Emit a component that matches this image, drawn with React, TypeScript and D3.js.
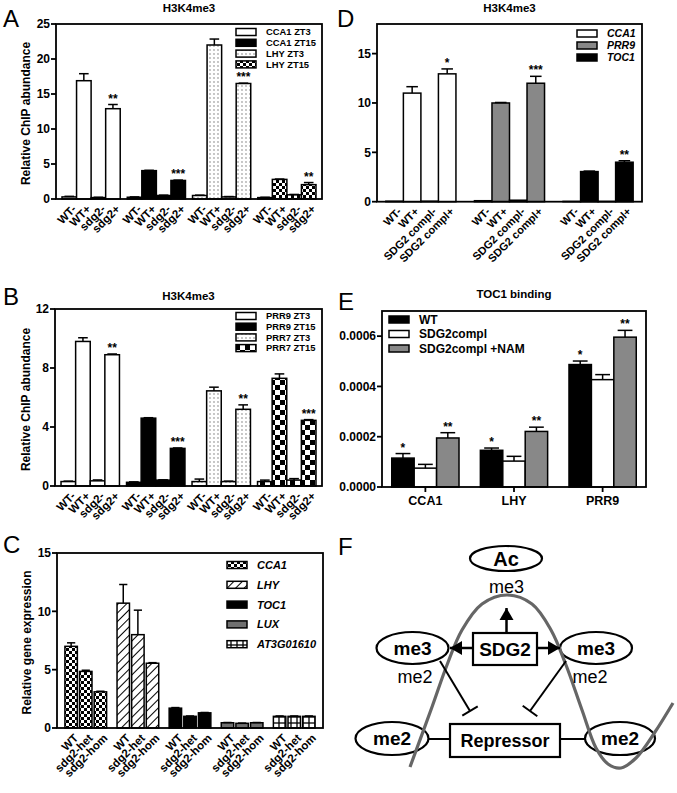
import React from "react";
import * as d3 from "d3";

const FONT = "'Liberation Sans', Arial, Helvetica, sans-serif";

// ---------------- Panel A ----------------
const conditionsA = ["WT-", "WT+", "sdg2-", "sdg2+"];
const seriesA = ["CCA1 ZT3", "CCA1 ZT15", "LHY ZT3", "LHY ZT15"];
const valuesA = [
  [0.3, 16.9, 0.2, 12.9],
  [0.25, 4.05, 0.5, 2.65],
  [0.5, 22.0, 0.3, 16.5],
  [0.2, 2.8, 0.6, 2.05],
];
const errorsA = [
  [0.08, 1.0, 0.05, 0.6],
  [0.05, 0.05, 0.05, 0.05],
  [0.05, 0.85, 0.05, 0.05],
  [0.05, 0.05, 0.05, 0.3],
];
const starsA = [
  ["", "", "", "**"],
  ["", "", "", "***"],
  ["", "", "", "***"],
  ["", "", "", "**"],
];
const ticksA = [0, 5, 10, 15, 20, 25];

// ---------------- Panel B ----------------
const conditionsB = ["WT-", "WT+", "sdg2-", "sdg2+"];
const seriesB = ["PRR9 ZT3", "PRR9 ZT15", "PRR7 ZT3", "PRR7 ZT15"];
const valuesB = [
  [0.3, 9.8, 0.35, 8.9],
  [0.25, 4.6, 0.4, 2.55],
  [0.3, 6.45, 0.3, 5.2],
  [0.3, 7.3, 0.4, 4.45],
];
const errorsB = [
  [0.03, 0.25, 0.06, 0.05],
  [0.03, 0.03, 0.02, 0.03],
  [0.17, 0.25, 0.03, 0.3],
  [0.1, 0.3, 0.1, 0.05],
];
const starsB = [
  ["", "", "", "**"],
  ["", "", "", "***"],
  ["", "", "", "**"],
  ["", "", "", "***"],
];
const ticksB = [0, 4, 8, 12];

// ---------------- Panel C ----------------
const conditionsC = ["WT", "sdg2-het", "sdg2-hom"];
const genesC = ["CCA1", "LHY", "TOC1", "LUX", "AT3G01610"];
const valuesC = [
  [7.0, 4.85, 3.1],
  [10.7, 8.0, 5.55],
  [1.7, 1.0, 1.3],
  [0.45, 0.4, 0.45],
  [1.0, 1.0, 1.0],
];
const errorsC = [
  [0.3, 0.1, 0.05],
  [1.6, 2.1, 0.05],
  [0.05, 0.03, 0.03],
  [0.02, 0.02, 0.02],
  [0.03, 0.03, 0.03],
];
const ticksC = [0, 5, 10, 15];

// ---------------- Panel D ----------------
const conditionsD = ["WT-", "WT+", "SDG2 compl-", "SDG2 compl+"];
const genesD = ["CCA1", "PRR9", "TOC1"];
const valuesD = [
  [0.05, 11.0, 0.05, 12.95],
  [0.1, 10.0, 0.15, 12.0],
  [0.03, 3.05, 0.03, 4.0],
];
const errorsD = [
  [0, 0.65, 0, 0.5],
  [0, 0.05, 0, 0.7],
  [0, 0.05, 0, 0.15],
];
const starsD = [
  ["", "", "", "*"],
  ["", "", "", "***"],
  ["", "", "", "**"],
];
const ticksD = [0, 5, 10, 15];

// ---------------- Panel E ----------------
const genesE = ["CCA1", "LHY", "PRR9"];
const seriesE = ["WT", "SDG2compl", "SDG2compl +NAM"];
const valuesE = [
  [0.000115, 0.000075, 0.000195],
  [0.000146, 0.000103, 0.000221],
  [0.000487, 0.000427, 0.000596],
];
const errorsE = [
  [0.000018, 0.000015, 0.000021],
  [0.000009, 0.000019, 0.000017],
  [0.000014, 0.00002, 0.000027],
];
const starsE = [
  ["*", "", "**"],
  ["*", "", "**"],
  ["*", "", "**"],
];
const ticksE = [0, 0.0002, 0.0004, 0.0006];

// ---------------- Panel F (schematic) ----------------
const diagramEllipses = [
  { label: "Ac", cx: 506, cy: 558.5, rx: 36, ry: 12.5 },
  { label: "me3", cx: 412.5, cy: 648, rx: 36, ry: 16 },
  { label: "me3", cx: 596, cy: 648, rx: 36, ry: 16 },
  { label: "me2", cx: 392, cy: 738.5, rx: 36.5, ry: 16.5 },
  { label: "me2", cx: 620, cy: 738.5, rx: 35, ry: 16.5 },
];
const diagramBoxes = [
  { label: "SDG2", x: 473, y: 633, w: 64, h: 32, size: 19 },
  { label: "Repressor", x: 450, y: 724, w: 110, h: 33, size: 18 },
];
const diagramTexts = [
  { label: "me3", x: 506.5, y: 587 },
  { label: "me2", x: 415, y: 677 },
  { label: "me2", x: 590, y: 677 },
];
const nucleosomeCurve: [number, number][] = [
  [410, 767], [432, 707], [447, 665], [462, 630], [482, 604], [507, 595],
  [532, 604], [551, 630], [566, 665], [582, 710], [596, 748], [608, 764],
  [621, 768], [636, 758], [655, 732], [673, 703],
];
const arrows = [
  { x1: 506.5, y1: 633, x2: 506.5, y2: 608 },
  { x1: 473, y1: 648, x2: 450, y2: 648 },
  { x1: 537, y1: 648, x2: 560, y2: 648 },
];
const inhibitions = [
  { x1: 440, y1: 661, x2: 470, y2: 711 },
  { x1: 566, y1: 661, x2: 530, y2: 711 },
];
const connectors = [
  { x1: 428.5, y1: 739, x2: 450, y2: 739 },
  { x1: 560, y1: 739, x2: 585, y2: 739 },
];

function Defs() {
  return (
    <defs>
      <pattern id="dots" width={4} height={4} patternUnits="userSpaceOnUse">
        <rect width={4} height={4} fill="#fff" />
        <circle cx={2} cy={2} r={0.7} fill="#666" />
      </pattern>
      <pattern id="check3" width={6} height={6} patternUnits="userSpaceOnUse">
        <rect width={6} height={6} fill="#fff" />
        <rect width={3} height={3} fill="#000" />
        <rect x={3} y={3} width={3} height={3} fill="#000" />
      </pattern>
      <pattern id="check5" width={10} height={10} patternUnits="userSpaceOnUse">
        <rect width={10} height={10} fill="#fff" />
        <rect width={5} height={5} fill="#000" />
        <rect x={5} y={5} width={5} height={5} fill="#000" />
      </pattern>
      <pattern id="hatch" width={6} height={6} patternUnits="userSpaceOnUse" patternTransform="rotate(45)">
        <rect width={6} height={6} fill="#fff" />
        <line x1={0} y1={0} x2={0} y2={6} stroke="#000" strokeWidth={2} />
      </pattern>
      <pattern id="grid" width={6} height={6} patternUnits="userSpaceOnUse">
        <rect width={6} height={6} fill="#fff" />
        <line x1={3} y1={0} x2={3} y2={6} stroke="#000" strokeWidth={1.3} />
        <line x1={0} y1={3} x2={6} y2={3} stroke="#000" strokeWidth={1.3} />
      </pattern>
    </defs>
  );
}

type PanelProps = {
  letter: string; letterX: number; letterY: number;
  title?: string; titleY?: number;
  yLabel?: string; yLabelX?: number;
  left: number; right: number; top: number; bottom: number;
  yMax: number; ticks: number[]; tickFormat?: (v: number) => string;
  groups: string[]; conds: string[];
  values: number[][]; errors: number[][]; stars?: string[][];
  fills: string[]; fillBy: "group" | "cond";
  padInner: number; padOuter: number; innerPad: number;
  xLabels: "rotated" | "group";
  labelSize?: number;
  legend: { x: number; y: number; dy: number; size: number; italic?: boolean; labels: string[] };
};

function BarPanel(p: PanelProps) {
  const y = d3.scaleLinear().domain([0, p.yMax]).range([p.bottom, p.top]);
  const x0 = d3.scaleBand<number>().domain(d3.range(p.groups.length)).range([p.left, p.right])
    .paddingInner(p.padInner).paddingOuter(p.padOuter);
  const x1 = d3.scaleBand<number>().domain(d3.range(p.conds.length)).range([0, x0.bandwidth()])
    .paddingInner(p.innerPad);
  const bw = x1.bandwidth();
  const fmt = p.tickFormat || ((v: number) => String(v));
  const fillOf = (g: number, c: number) => (p.fillBy === "group" ? p.fills[g] : p.fills[c]);
  const ls = p.labelSize || 11.5;
  return (
    <g>
      <text x={p.letterX} y={p.letterY} fontSize={24} fontFamily={FONT}>{p.letter}</text>
      {p.title && (
        <text x={(p.left + p.right) / 2} y={p.titleY} textAnchor="middle" fontSize={11.5} fontWeight="bold">{p.title}</text>
      )}
      {p.yLabel && (
        <text transform={`translate(${p.yLabelX},${(p.top + p.bottom) / 2 + 2}) rotate(-90)`} textAnchor="middle"
          dy="0.35em" fontSize={12} fontWeight="bold">{p.yLabel}</text>
      )}
      {p.values.map((row, g) =>
        row.map((v, c) => {
          const x = (x0(g) as number) + (x1(c) as number);
          return (
            <rect key={`b${g}-${c}`} x={x} y={y(v)} width={bw} height={p.bottom - y(v)}
              fill={fillOf(g, c)} stroke="#000" strokeWidth={1.5} />
          );
        })
      )}
      {p.values.map((row, g) =>
        row.map((v, c) => {
          const e = p.errors[g][c];
          if (!e) return null;
          const cx = (x0(g) as number) + (x1(c) as number) + bw / 2;
          const cw = bw * 0.33;
          return (
            <g key={`e${g}-${c}`} stroke="#000" strokeWidth={1.5}>
              <line x1={cx} x2={cx} y1={y(v)} y2={y(v + e)} />
              <line x1={cx - cw} x2={cx + cw} y1={y(v + e)} y2={y(v + e)} />
            </g>
          );
        })
      )}
      {p.stars && p.values.map((row, g) =>
        row.map((v, c) => {
          const s = p.stars![g][c];
          if (!s) return null;
          const cx = (x0(g) as number) + (x1(c) as number) + bw / 2;
          return (
            <text key={`s${g}-${c}`} x={cx} y={y(v + p.errors[g][c]) - 2} textAnchor="middle" fontSize={12}
              fontWeight="bold">{s}</text>
          );
        })
      )}
      <rect x={p.left} y={p.top} width={p.right - p.left} height={p.bottom - p.top} fill="none" stroke="#000" strokeWidth={1.8} />
      {p.ticks.map((t) => (
        <g key={`t${t}`}>
          <line x1={p.left - 5} x2={p.left} y1={y(t)} y2={y(t)} stroke="#000" strokeWidth={1.8} />
          <text x={p.left - 6} y={y(t)} dy="0.36em" textAnchor="end" fontSize={12} fontWeight="bold">{fmt(t)}</text>
        </g>
      ))}
      {p.xLabels === "rotated" && p.groups.map((_, g) =>
        p.conds.map((lab, c) => {
          const cx = (x0(g) as number) + (x1(c) as number) + bw / 2;
          return (
            <text key={`x${g}-${c}`} transform={`translate(${cx + 2},${p.bottom + 5}) rotate(-45)`} textAnchor="end"
              dy="0.71em" fontSize={ls} fontWeight="bold">{lab}</text>
          );
        })
      )}
      {p.xLabels === "group" && p.groups.map((lab, g) => {
        const cx = (x0(g) as number) + x0.bandwidth() / 2;
        return (
          <g key={`xg${g}`}>
            <line x1={cx} x2={cx} y1={p.bottom} y2={p.bottom + 5} stroke="#000" strokeWidth={1.8} />
            <text x={cx} y={p.bottom + 18} textAnchor="middle" fontSize={12.5} fontWeight="bold">{lab}</text>
          </g>
        );
      })}
      {p.legend.labels.map((lab, i) => {
        const ly = p.legend.y + i * p.legend.dy;
        return (
          <g key={`l${i}`}>
            <rect x={p.legend.x} y={ly - 3.5} width={20} height={7} fill={p.fills[i]} stroke="#000" strokeWidth={1.5} />
            <text x={p.legend.x + 30} y={ly} dy="0.36em" fontSize={p.legend.size} fontWeight="bold"
              fontStyle={p.legend.italic ? "italic" : "normal"}>{lab}</text>
          </g>
        );
      })}
    </g>
  );
}

function Diagram() {
  const curve = d3.line().curve(d3.curveCatmullRom.alpha(0.5))(nucleosomeCurve) || "";
  const head = (a: { x1: number; y1: number; x2: number; y2: number }) => {
    const ang = Math.atan2(a.y2 - a.y1, a.x2 - a.x1);
    const L = 12, W = 7;
    const bx = a.x2 - L * Math.cos(ang), by = a.y2 - L * Math.sin(ang);
    const px = -Math.sin(ang) * W, py = Math.cos(ang) * W;
    return `M${a.x2},${a.y2}L${bx + px},${by + py}L${bx - px},${by - py}Z`;
  };
  return (
    <g fontFamily={FONT}>
      <text x={338} y={555} fontSize={24}>F</text>
      {diagramEllipses.map((e, i) => (
        <ellipse key={`el${i}`} cx={e.cx} cy={e.cy} rx={e.rx} ry={e.ry} fill="#fff" stroke="#000" strokeWidth={2.2} />
      ))}
      <path d={curve} fill="none" stroke="#666" strokeWidth={3.2} />
      {connectors.map((c, i) => (
        <line key={`c${i}`} x1={c.x1} y1={c.y1} x2={c.x2} y2={c.y2} stroke="#000" strokeWidth={2} />
      ))}
      {inhibitions.map((a, i) => {
        const ang = Math.atan2(a.y2 - a.y1, a.x2 - a.x1);
        const px = -Math.sin(ang) * 9, py = Math.cos(ang) * 9;
        return (
          <g key={`in${i}`} stroke="#000" strokeWidth={2}>
            <line x1={a.x1} y1={a.y1} x2={a.x2} y2={a.y2} />
            <line x1={a.x2 + px} y1={a.y2 + py} x2={a.x2 - px} y2={a.y2 - py} />
          </g>
        );
      })}
      {arrows.map((a, i) => (
        <g key={`ar${i}`}>
          <line x1={a.x1} y1={a.y1} x2={a.x2} y2={a.y2} stroke="#000" strokeWidth={2.5} />
          <path d={head(a)} fill="#000" />
        </g>
      ))}
      {diagramBoxes.map((b, i) => (
        <g key={`bx${i}`}>
          <rect x={b.x} y={b.y} width={b.w} height={b.h} fill="#fff" stroke="#000" strokeWidth={2.2} />
          <text x={b.x + b.w / 2} y={b.y + b.h / 2} dy="0.36em" textAnchor="middle" fontSize={b.size} fontWeight="bold">{b.label}</text>
        </g>
      ))}
      {diagramEllipses.map((e, i) => (
        <text key={`et${i}`} x={e.cx} y={e.cy} dy="0.36em" textAnchor="middle" fontSize={e.label === "Ac" ? 20 : 19}
          fontWeight="bold">{e.label}</text>
      ))}
      {diagramTexts.map((t, i) => (
        <text key={`dt${i}`} x={t.x} y={t.y} dy="0.36em" textAnchor="middle" fontSize={18}>{t.label}</text>
      ))}
    </g>
  );
}

export default function App() {
  return (
    <svg width={677} height={793} style={{ position: "absolute", left: 0, top: 0, background: "#fff" }}
      fontFamily={FONT}>
      <Defs />
      <rect width={677} height={793} fill="#fff" />
      <BarPanel letter="A" letterX={3} letterY={27} title="H3K4me3" titleY={12}
        yLabel="Relative ChIP abundance" yLabelX={26}
        left={56} right={322} top={24} bottom={199} yMax={25} ticks={ticksA}
        groups={seriesA} conds={conditionsA} values={valuesA} errors={errorsA} stars={starsA}
        fills={["#fff", "#000", "url(#dots)", "url(#check3)"]} fillBy="group"
        padInner={0.108} padOuter={0.092} innerPad={0} xLabels="rotated"
        legend={{ x: 236, y: 32, dy: 10.8, size: 9.4, labels: seriesA }} />
      <BarPanel letter="B" letterX={3} letterY={305} title="H3K4me3" titleY={300}
        yLabel="Relative ChIP abundance" yLabelX={26}
        left={55} right={322} top={309} bottom={486} yMax={12} ticks={ticksB}
        groups={seriesB} conds={conditionsB} values={valuesB} errors={errorsB} stars={starsB}
        fills={["#fff", "#000", "url(#dots)", "url(#check5)"]} fillBy="group"
        padInner={0.108} padOuter={0.092} innerPad={0} xLabels="rotated"
        legend={{ x: 236, y: 316, dy: 10.7, size: 9.4, labels: seriesB }} />
      <BarPanel letter="C" letterX={3} letterY={553}
        yLabel="Relative gene expression" yLabelX={27}
        left={57} right={323} top={553} bottom={728} yMax={15} ticks={ticksC}
        groups={genesC} conds={conditionsC} values={valuesC} errors={errorsC}
        fills={["url(#check3)", "url(#hatch)", "#000", "#707070", "url(#grid)"]} fillBy="group"
        padInner={0.2} padOuter={0.152} innerPad={0.15} xLabels="rotated"
        legend={{ x: 227, y: 565, dy: 19.8, size: 11, italic: true, labels: genesC }} />
      <BarPanel letter="D" letterX={337} letterY={27} title="H3K4me3" titleY={12}
        left={377} right={642} top={24} bottom={201.7} yMax={18} ticks={ticksD}
        groups={genesD} conds={conditionsD} values={valuesD} errors={errorsD} stars={starsD}
        fills={["#fff", "#888", "#000"]} fillBy="group"
        padInner={0.209} padOuter={0.1} innerPad={0} xLabels="rotated" labelSize={11}
        legend={{ x: 577, y: 33.5, dy: 12, size: 10.5, italic: true, labels: genesD }} />
      <BarPanel letter="E" letterX={338} letterY={310} title="TOC1 binding" titleY={298}
        left={382} right={646} top={311} bottom={487} yMax={0.0007} ticks={ticksE}
        tickFormat={d3.format(".4f")}
        groups={genesE} conds={seriesE} values={valuesE} errors={errorsE} stars={starsE}
        fills={["#000", "#fff", "#888"]} fillBy="cond"
        padInner={0.241} padOuter={0.11} innerPad={0} xLabels="group"
        legend={{ x: 389, y: 319.5, dy: 14.5, size: 12, labels: seriesE }} />
      <Diagram />
    </svg>
  );
}
